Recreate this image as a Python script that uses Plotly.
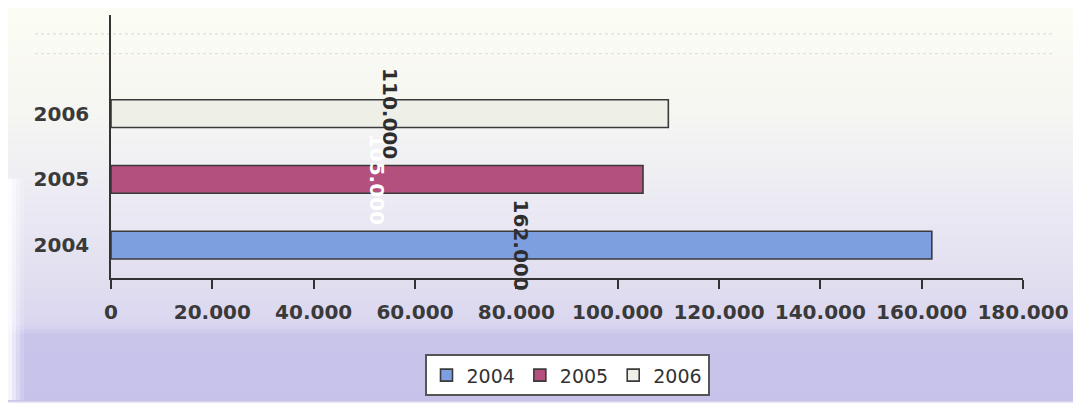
import plotly.graph_objects as go

# ---- data ----
years = ["2004", "2005", "2006"]
values = [162000, 105000, 110000]
x_ticks = [0, 20000, 40000, 60000, 80000, 100000, 120000, 140000, 160000, 180000]

# ---- styles ----
bar_colors = ["#7d9fe0", "#b3507e", "#eef0e8"]
label_colors = ["#2e2e2e", "#ffffff", "#2e2e2e"]
OFF = 8  # page body margin
W, H = 1081 - OFF, 403 - OFF
M = dict(l=111 - OFF, r=58, t=15 - OFF, b=123)

fig = go.Figure()
for yr, v, c, tc in zip(years, values, bar_colors, label_colors):
    fig.add_trace(go.Bar(
        y=[yr], x=[v], name=yr, orientation="h", width=0.42,
        marker=dict(color=c, line=dict(color="#3a3a3a", width=1.6)),
        text=[f"{v:,}".replace(",", ".")], textposition="inside",
        insidetextanchor="middle", textangle=90, constraintext="none",
        textfont=dict(family="DejaVu Sans", size=20, color=tc, weight="bold"),
        cliponaxis=False, hoverinfo="x+y",
    ))

# background gradient stripes (screen pixel rows -> paper coords)
def lerp(c1, c2, t):
    return tuple(round(a + (b - a) * t) for a, b in zip(c1, c2))

stops = [(0, (252, 253, 243)), (110, (246, 246, 242)), (200, (236, 235, 244)),
         (290, (224, 221, 240)), (328, (218, 214, 240)), (338, (200, 196, 234)),
         (403, (198, 194, 234))]
ph = H - M["t"] - M["b"]
pw = W - M["l"] - M["r"]

def py(pix):  # screen y -> paper
    return (H - M["b"] - (pix - OFF)) / ph

def px(pix):  # screen x -> paper
    return (pix - OFF - M["l"]) / pw

shapes = []
step = 4
for y0 in range(OFF - 4, 403, step):
    ym = y0 + step / 2
    col = stops[-1][1]
    for (a, ca), (b, cb) in zip(stops[:-1], stops[1:]):
        if a <= ym <= b:
            col = lerp(ca, cb, (ym - a) / (b - a))
            break
    shapes.append(dict(type="rect", xref="paper", yref="paper", layer="below",
                       x0=px(0), x1=px(1085), y0=py(y0 + step + 0.5), y1=py(y0),
                       fillcolor="rgb(%d,%d,%d)" % col, line=dict(width=0)))
# whitish left edge (lower part)
for i, op in enumerate([0.85, 0.6, 0.35, 0.15]):
    shapes.append(dict(type="rect", xref="paper", yref="paper", layer="below",
                       x0=px(OFF + i * 4), x1=px(OFF + (i + 1) * 4), y0=py(403), y1=py(180),
                       fillcolor="white", opacity=op, line=dict(width=0)))
# faint dotted lines at the top
for yy in (34, 54):
    shapes.append(dict(type="line", xref="paper", yref="paper", layer="below",
                       x0=px(35), x1=px(1055), y0=py(yy), y1=py(yy),
                       line=dict(color="#dadada", width=1, dash="dot")))

fig.update_layout(
    width=W, height=H, margin=M,
    paper_bgcolor="#e8e6f2", plot_bgcolor="rgba(0,0,0,0)",
    barmode="overlay", separators=",.", shapes=shapes,
    font=dict(family="DejaVu Sans", color="#3a3a3a"),
    showlegend=True, uniformtext=dict(mode=False),
    legend=dict(orientation="h", x=0.5, xanchor="center", y=-0.29, yanchor="top",
                bgcolor="white", bordercolor="#555555", borderwidth=2,
                font=dict(family="DejaVu Sans", size=19, color="#333333"),
                itemwidth=30, traceorder="normal"),
    xaxis=dict(range=[0, 180000], tickvals=x_ticks, tickformat=",d", automargin=False,
               showgrid=False, zeroline=False, showline=True, linecolor="#333333", linewidth=1.5,
               ticks="outside", ticklen=9, tickwidth=1.5, tickcolor="#333333",
               tickfont=dict(family="DejaVu Sans", size=20, color="#3a3a3a", weight="bold"),
               ticklabelstandoff=6, fixedrange=True),
    yaxis=dict(type="category", categoryorder="array", categoryarray=years, range=[-0.5, 3.5],
               automargin=False,
               showgrid=False, zeroline=False, showline=True, linecolor="#333333", linewidth=1.5,
               ticks="", tickfont=dict(family="DejaVu Sans", size=20, color="#3a3a3a", weight="bold"),
               ticklabelstandoff=16, fixedrange=True),
)

fig.write_html("out.html")
